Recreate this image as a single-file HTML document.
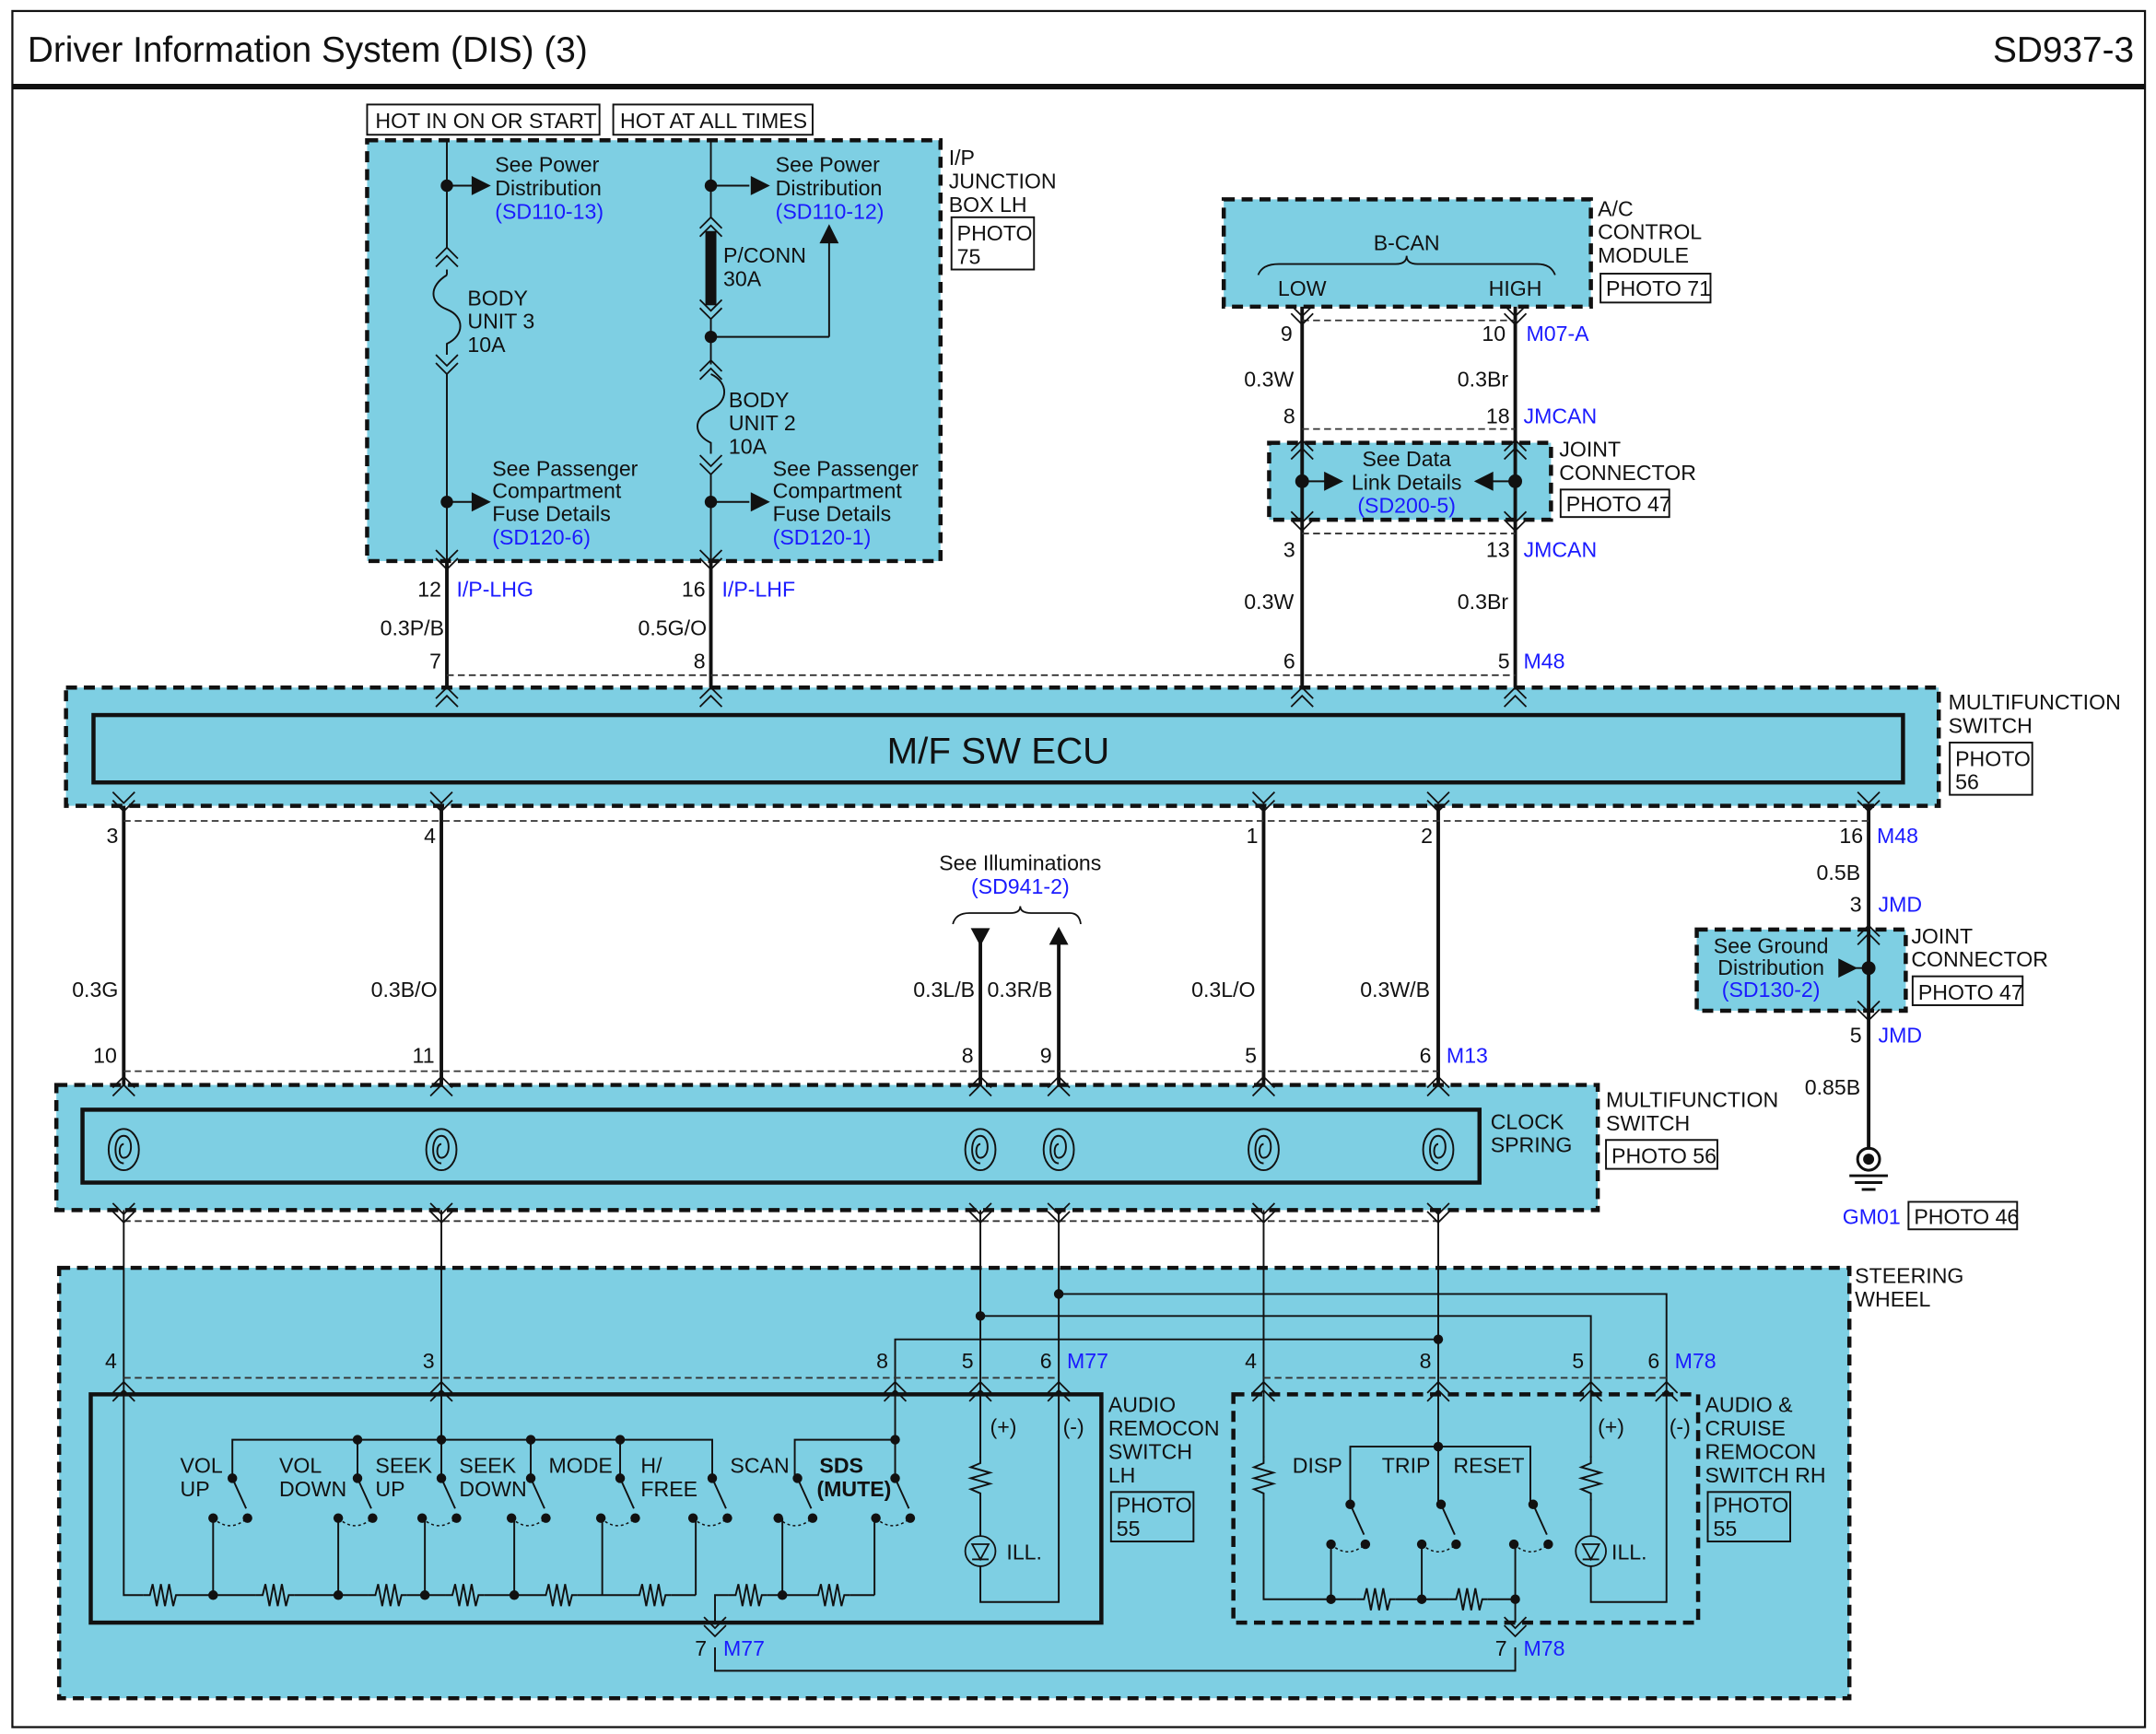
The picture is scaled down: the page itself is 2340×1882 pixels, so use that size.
<!DOCTYPE html>
<html><head><meta charset="utf-8"><style>
html,body{margin:0;padding:0;background:#fff}
svg{display:block}
text{font-family:"Liberation Sans",Arial,sans-serif;font-size:15.5px;fill:#111}
.b{fill:#1a1aff}
.e{text-anchor:end}
.m{text-anchor:middle}
</style></head><body>
<svg width="2340" height="1882" viewBox="0 0 1568 1261" preserveAspectRatio="none" xmlns="http://www.w3.org/2000/svg">
<defs>
<path id="cu" d="M-8,8 L0,0 L8,8 M-8,14 L0,6 L8,14" stroke="#111" stroke-width="1.2" fill="none"/>
<path id="cd" d="M-8,-8 L0,0 L8,-8 M-8,-14 L0,-6 L8,-14" stroke="#111" stroke-width="1.2" fill="none"/>
<path id="rh" d="M-14,0 L-9,0 L-7,-8 L-4,8 L-1,-8 L2,8 L5,-8 L8,8 L10,0 L14,0" stroke="#111" stroke-width="1.3" fill="none"/>
<path id="rv" d="M0,-16 L0,-11 L-7,-8 L7,-4 L-7,0 L7,4 L-7,8 L0,11 L0,16" stroke="#111" stroke-width="1.3" fill="none"/>
<g id="sp" fill="none" stroke="#111" stroke-width="1.3"><ellipse cx="0" cy="0" rx="11" ry="15"/><path d="M0,10 C-8,10 -8,-10 0,-10 C7,-10 7,6 0,6 C-4,6 -4,-4 0,-4"/></g>
<g id="sw"><circle cx="0" cy="0" r="3.5" fill="#111"/><line x1="0" y1="0" x2="10" y2="22" stroke="#111" stroke-width="1.3"/><circle cx="-14" cy="29" r="3.5" fill="#111"/><circle cx="11" cy="29" r="3.5" fill="#111"/><path d="M-14,29 Q-2,40 11,29" stroke="#111" stroke-width="1" stroke-dasharray="2,2" fill="none"/></g>
<g id="ill"><circle cx="0" cy="0" r="11" fill="none" stroke="#111" stroke-width="1.2"/><path d="M-6,-5 L6,-5 L0,6 Z" fill="none" stroke="#111" stroke-width="1.2"/><line x1="-6" y1="6" x2="6" y2="6" stroke="#111" stroke-width="1.2"/></g>
</defs>
<rect x="0" y="0" width="1568" height="1261" fill="#fff"/>
<rect x="9" y="8" width="1551" height="1248" fill="none" stroke="#111" stroke-width="1.5"/>
<text x="20" y="45" style="font-size:26px">Driver Information System (DIS) (3)</text>
<text x="1552" y="45" class="e" style="font-size:26px">SD937-3</text>
<line x1="9" y1="63" x2="1560" y2="63" stroke="#111" stroke-width="4"/>

<!-- blue regions -->
<g fill="#7ecfe3" stroke="#111" stroke-width="3" stroke-dasharray="8,5">
<rect x="267" y="102" width="417" height="306"/>
<rect x="890" y="145" width="267" height="78"/>
<rect x="923" y="322" width="205" height="56"/>
<rect x="48" y="500" width="1362" height="86"/>
<rect x="1234" y="676" width="152" height="59"/>
<rect x="41" y="789" width="1121" height="91"/>
<rect x="43" y="922" width="1302" height="313"/>
<rect x="897" y="1014" width="338" height="166"/>
</g>
<rect x="68" y="520" width="1316" height="49" fill="#7ecfe3" stroke="#111" stroke-width="3"/>
<rect x="60" y="807" width="1016" height="53" fill="#7ecfe3" stroke="#111" stroke-width="3"/>
<rect x="66" y="1014" width="735" height="166" fill="#7ecfe3" stroke="#111" stroke-width="3"/>

<!-- boxes -->
<g fill="none" stroke="#111" stroke-width="1.3">
<rect x="267" y="76" width="169" height="22"/><rect x="446" y="76" width="145" height="22"/>
<rect x="692" y="158" width="60" height="38"/>
<rect x="1164" y="199" width="80" height="21"/>
<rect x="1135" y="356" width="79" height="20"/>
<rect x="1418" y="540" width="60" height="38"/>
<rect x="1391" y="710" width="80" height="21"/>
<rect x="1168" y="829" width="81" height="21"/>
<rect x="1388" y="874" width="79" height="20"/>
<rect x="808" y="1085" width="60" height="36"/>
<rect x="1242" y="1085" width="60" height="36"/>
</g>
<text x="273" y="93">HOT IN ON OR START</text><text x="451" y="93">HOT AT ALL TIMES</text>
<text x="690" y="120">I/P</text><text x="690" y="137">JUNCTION</text><text x="690" y="154">BOX LH</text>
<text x="696" y="175">PHOTO</text><text x="696" y="192">75</text>

<!-- junction box internals -->
<g stroke="#111" stroke-width="1.3" fill="none">
<line x1="325" y1="102" x2="325" y2="180"/><line x1="325" y1="196" x2="325" y2="200"/>
<path d="M325,200 C312,208 312,220 325,225 C338,230 338,244 325,250 L325,258"/>
<line x1="325" y1="272" x2="325" y2="408"/>
<line x1="325" y1="135" x2="345" y2="135"/><line x1="325" y1="365" x2="345" y2="365"/>
<line x1="517" y1="102" x2="517" y2="158"/>
<line x1="517" y1="245" x2="603" y2="245"/><line x1="603" y1="245" x2="603" y2="175"/>
<line x1="517" y1="232" x2="517" y2="265"/>
<path d="M517,272 C530,278 530,292 517,298 C504,304 504,316 517,322 L517,330"/>
<line x1="517" y1="345" x2="517" y2="408"/>
<line x1="517" y1="135" x2="545" y2="135"/><line x1="517" y1="365" x2="545" y2="365"/>
</g>
<rect x="513" y="168" width="8" height="54" fill="#111"/>
<use href="#cu" x="325" y="180"/><use href="#cd" x="325" y="272"/>
<use href="#cu" x="517" y="158"/><use href="#cd" x="517" y="232"/>
<use href="#cu" x="517" y="262"/><use href="#cd" x="517" y="345"/>
<g fill="#111">
<circle cx="325" cy="135" r="4.5"/><circle cx="325" cy="365" r="4.5"/><circle cx="517" cy="135" r="4.5"/><circle cx="517" cy="245" r="4.5"/><circle cx="517" cy="365" r="4.5"/>
<path d="M343,128 L357,135 L343,142Z"/><path d="M343,358 L357,365 L343,372Z"/>
<path d="M546,128 L560,135 L546,142Z"/><path d="M546,358 L560,365 L546,372Z"/>
<path d="M596,177 L603,163 L610,177Z"/>
</g>
<text x="360" y="125">See Power</text><text x="360" y="142">Distribution</text><text x="360" y="159" class="b">(SD110-13)</text>
<text x="564" y="125">See Power</text><text x="564" y="142">Distribution</text><text x="564" y="159" class="b">(SD110-12)</text>
<text x="340" y="222">BODY</text><text x="340" y="239">UNIT 3</text><text x="340" y="256">10A</text>
<text x="526" y="191">P/CONN</text><text x="526" y="208">30A</text>
<text x="530" y="296">BODY</text><text x="530" y="313">UNIT 2</text><text x="530" y="330">10A</text>
<text x="358" y="346">See Passenger</text><text x="358" y="362">Compartment</text><text x="358" y="379">Fuse Details</text><text x="358" y="396" class="b">(SD120-6)</text>
<text x="562" y="346">See Passenger</text><text x="562" y="362">Compartment</text><text x="562" y="379">Fuse Details</text><text x="562" y="396" class="b">(SD120-1)</text>

<!-- A/C module -->
<path d="M915,200 Q918,192 930,192 L1015,192 Q1023,192 1023,186 Q1023,192 1031,192 L1118,192 Q1128,192 1131,200" fill="none" stroke="#111" stroke-width="1.2"/>
<text x="1023" y="182" class="m">B-CAN</text><text x="947" y="215" class="m">LOW</text><text x="1102" y="215" class="m">HIGH</text>
<text x="1162" y="157">A/C</text><text x="1162" y="174">CONTROL</text><text x="1162" y="191">MODULE</text><text x="1168" y="215">PHOTO 71</text>

<!-- heavy wires -->
<g stroke="#111" stroke-width="2.6" fill="none">
<line x1="325" y1="408" x2="325" y2="500"/><line x1="517" y1="408" x2="517" y2="500"/>
<line x1="947" y1="223" x2="947" y2="500"/><line x1="1102" y1="223" x2="1102" y2="500"/>
<line x1="90" y1="586" x2="90" y2="789"/><line x1="321" y1="586" x2="321" y2="789"/>
<line x1="919" y1="586" x2="919" y2="789"/><line x1="1046" y1="586" x2="1046" y2="789"/>
<line x1="713" y1="682" x2="713" y2="789"/><line x1="770" y1="684" x2="770" y2="789"/>
<line x1="1359" y1="586" x2="1359" y2="836"/>
</g>
<g stroke="#111" stroke-width="1.3" fill="none">
<line x1="90" y1="880" x2="90" y2="1014"/><line x1="321" y1="880" x2="321" y2="1014"/>
<line x1="713" y1="880" x2="713" y2="1014"/><line x1="770" y1="880" x2="770" y2="1014"/>
<line x1="919" y1="880" x2="919" y2="1014"/><line x1="1046" y1="880" x2="1046" y2="1014"/>
<path d="M713,957 L1157,957 L1157,1014"/><path d="M770,941 L1212,941 L1212,1014"/>
<path d="M651,1014 L651,974 L1046,974"/>
</g>
<g fill="#111"><circle cx="713" cy="957" r="3.5"/><circle cx="770" cy="941" r="3.5"/><circle cx="1046" cy="974" r="3.5"/></g>

<!-- dashed connector lines -->
<g stroke="#333" stroke-width="1.2" stroke-dasharray="5,3" fill="none">
<line x1="325" y1="491" x2="1102" y2="491"/>
<line x1="947" y1="233" x2="1102" y2="233"/><line x1="947" y1="312" x2="1102" y2="312"/><line x1="947" y1="388" x2="1102" y2="388"/>
<line x1="90" y1="597" x2="1359" y2="597"/>
<line x1="90" y1="779" x2="1046" y2="779"/><line x1="90" y1="888" x2="1046" y2="888"/>
<line x1="90" y1="1002" x2="770" y2="1002"/><line x1="919" y1="1002" x2="1212" y2="1002"/>
</g>

<!-- connector chevrons -->
<use href="#cd" x="325" y="414"/><use href="#cd" x="517" y="414"/>
<use href="#cu" x="325" y="500"/><use href="#cu" x="517" y="500"/><use href="#cu" x="947" y="500"/><use href="#cu" x="1102" y="500"/>
<use href="#cd" x="947" y="236"/><use href="#cd" x="1102" y="236"/>
<use href="#cu" x="947" y="320"/><use href="#cu" x="1102" y="320"/>
<use href="#cd" x="947" y="386"/><use href="#cd" x="1102" y="386"/>
<g id="ecub"><use href="#cd" x="90" y="590"/><use href="#cd" x="321" y="590"/><use href="#cd" x="919" y="590"/><use href="#cd" x="1046" y="590"/><use href="#cd" x="1359" y="590"/></g>
<use href="#cu" x="1359" y="673"/><use href="#cd" x="1359" y="742"/>
<g><use href="#cu" x="90" y="783"/><use href="#cu" x="321" y="783"/><use href="#cu" x="713" y="783"/><use href="#cu" x="770" y="783"/><use href="#cu" x="919" y="783"/><use href="#cu" x="1046" y="783"/></g>
<g><use href="#cd" x="90" y="889"/><use href="#cd" x="321" y="889"/><use href="#cd" x="713" y="889"/><use href="#cd" x="770" y="889"/><use href="#cd" x="919" y="889"/><use href="#cd" x="1046" y="889"/></g>
<g><use href="#cu" x="90" y="1005"/><use href="#cu" x="321" y="1005"/><use href="#cu" x="651" y="1005"/><use href="#cu" x="713" y="1005"/><use href="#cu" x="770" y="1005"/><use href="#cu" x="919" y="1005"/><use href="#cu" x="1046" y="1005"/><use href="#cu" x="1157" y="1005"/><use href="#cu" x="1212" y="1005"/></g>
<use href="#cd" x="520" y="1190"/><use href="#cd" x="1102" y="1190"/>

<!-- joint connector (data link) -->
<g stroke="#111" stroke-width="1.3"><line x1="947" y1="350" x2="965" y2="350"/><line x1="1084" y1="350" x2="1102" y2="350"/><line x1="1340" y1="704" x2="1359" y2="704"/></g>
<g fill="#111"><circle cx="947" cy="350" r="5"/><circle cx="1102" cy="350" r="5"/><path d="M963,343 L977,350 L963,357Z"/><path d="M1086,343 L1072,350 L1086,357Z"/><circle cx="1359" cy="704" r="5"/><path d="M1337,697 L1351,704 L1337,711Z"/></g>
<text x="1023" y="339" class="m">See Data</text><text x="1023" y="356" class="m">Link Details</text><text x="1023" y="373" class="m b">(SD200-5)</text>
<text x="1134" y="332">JOINT</text><text x="1134" y="349">CONNECTOR</text><text x="1139" y="372">PHOTO 47</text>

<!-- wire labels top -->
<text x="321" y="434" class="e">12</text><text x="332" y="434" class="b">I/P-LHG</text>
<text x="323" y="462" class="e">0.3P/B</text><text x="321" y="486" class="e">7</text>
<text x="513" y="434" class="e">16</text><text x="525" y="434" class="b">I/P-LHF</text>
<text x="514" y="462" class="e">0.5G/O</text><text x="513" y="486" class="e">8</text>
<text x="940" y="248" class="e">9</text><text x="1095" y="248" class="e">10</text><text x="1110" y="248" class="b">M07-A</text>
<text x="941" y="281" class="e">0.3W</text><text x="1097" y="281" class="e">0.3Br</text>
<text x="942" y="308" class="e">8</text><text x="1098" y="308" class="e">18</text><text x="1108" y="308" class="b">JMCAN</text>
<text x="942" y="405" class="e">3</text><text x="1098" y="405" class="e">13</text><text x="1108" y="405" class="b">JMCAN</text>
<text x="941" y="443" class="e">0.3W</text><text x="1097" y="443" class="e">0.3Br</text>
<text x="942" y="486" class="e">6</text><text x="1098" y="486" class="e">5</text><text x="1108" y="486" class="b">M48</text>

<!-- ECU -->
<text x="726" y="555" class="m" style="font-size:27px">M/F SW ECU</text>
<text x="1417" y="516">MULTIFUNCTION</text><text x="1417" y="533">SWITCH</text><text x="1422" y="557">PHOTO</text><text x="1422" y="574">56</text>

<text x="86" y="613" class="e">3</text><text x="317" y="613" class="e">4</text><text x="915" y="613" class="e">1</text><text x="1042" y="613" class="e">2</text>
<text x="1355" y="613" class="e">16</text><text x="1365" y="613" class="b">M48</text>
<text x="1353" y="640" class="e">0.5B</text>
<text x="1354" y="663" class="e">3</text><text x="1366" y="663" class="b">JMD</text>
<text x="1288" y="693" class="m">See Ground</text><text x="1288" y="709" class="m">Distribution</text><text x="1288" y="725" class="m b">(SD130-2)</text>
<text x="1390" y="686">JOINT</text><text x="1390" y="703">CONNECTOR</text><text x="1395" y="727">PHOTO 47</text>
<text x="1354" y="758" class="e">5</text><text x="1366" y="758" class="b">JMD</text>
<text x="1353" y="796" class="e">0.85B</text>
<circle cx="1359" cy="843" r="8" fill="none" stroke="#111" stroke-width="2"/><circle cx="1359" cy="843" r="4" fill="#111"/>
<g stroke="#111" stroke-width="2"><line x1="1345" y1="855" x2="1373" y2="855"/><line x1="1349" y1="860" x2="1369" y2="860"/><line x1="1354" y1="865" x2="1364" y2="865"/></g>
<text x="1340" y="890" class="b">GM01</text><text x="1392" y="890">PHOTO 46</text>

<!-- illuminations -->
<text x="742" y="633" class="m">See Illuminations</text><text x="742" y="650" class="m b">(SD941-2)</text>
<path d="M693,672 Q695,664 705,664 L735,664 Q742,664 742,659 Q742,664 750,664 L778,664 Q785,664 786,672" fill="none" stroke="#111" stroke-width="1.2"/>
<g fill="#111"><path d="M706,675 L720,675 L713,688Z"/><path d="M763,687 L777,687 L770,674Z"/></g>
<text x="86" y="725" class="e">0.3G</text><text x="318" y="725" class="e">0.3B/O</text>
<text x="709" y="725" class="e">0.3L/B</text><text x="718" y="725">0.3R/B</text>
<text x="913" y="725" class="e">0.3L/O</text><text x="1040" y="725" class="e">0.3W/B</text>
<text x="85" y="773" class="e">10</text><text x="316" y="773" class="e">11</text><text x="708" y="773" class="e">8</text><text x="765" y="773" class="e">9</text>
<text x="914" y="773" class="e">5</text><text x="1041" y="773" class="e">6</text><text x="1052" y="773" class="b">M13</text>

<!-- clock spring -->
<use href="#sp" x="90" y="836"/><use href="#sp" x="321" y="836"/><use href="#sp" x="713" y="836"/><use href="#sp" x="770" y="836"/><use href="#sp" x="919" y="836"/><use href="#sp" x="1046" y="836"/>
<text x="1084" y="821">CLOCK</text><text x="1084" y="838">SPRING</text>
<text x="1168" y="805">MULTIFUNCTION</text><text x="1168" y="822">SWITCH</text><text x="1172" y="846">PHOTO 56</text>

<!-- steering wheel -->
<text x="1349" y="933">STEERING</text><text x="1349" y="950">WHEEL</text>
<text x="85" y="995" class="e">4</text><text x="316" y="995" class="e">3</text><text x="646" y="995" class="e">8</text><text x="708" y="995" class="e">5</text><text x="765" y="995" class="e">6</text><text x="776" y="995" class="b">M77</text>
<text x="914" y="995" class="e">4</text><text x="1041" y="995" class="e">8</text><text x="1152" y="995" class="e">5</text><text x="1207" y="995" class="e">6</text><text x="1218" y="995" class="b">M78</text>

<!-- LH switch internals -->
<g stroke="#111" stroke-width="1.3" fill="none">
<path d="M90,1014 L90,1160 L104,1160"/>
<line x1="132" y1="1160" x2="186" y2="1160"/><line x1="214" y1="1160" x2="268" y2="1160"/><line x1="296" y1="1160" x2="324" y2="1160"/><line x1="352" y1="1160" x2="392" y2="1160"/><line x1="420" y1="1160" x2="460" y2="1160"/><line x1="488" y1="1160" x2="506" y2="1160"/>
<path d="M520,1180 L520,1160 L530,1160"/><line x1="558" y1="1160" x2="590" y2="1160"/><line x1="618" y1="1160" x2="636" y2="1160"/>
<path d="M169,1075 L169,1047 L518,1047 L518,1075"/><line x1="260" y1="1047" x2="260" y2="1075"/><line x1="321" y1="1014" x2="321" y2="1075"/><line x1="386" y1="1047" x2="386" y2="1075"/><line x1="451" y1="1047" x2="451" y2="1075"/>
<path d="M578,1075 L578,1047 L651,1047"/><line x1="651" y1="1014" x2="651" y2="1075"/>
<line x1="155" y1="1104" x2="155" y2="1160"/><line x1="246" y1="1104" x2="246" y2="1160"/><line x1="309" y1="1104" x2="309" y2="1160"/><line x1="374" y1="1104" x2="374" y2="1160"/><line x1="438" y1="1104" x2="438" y2="1160"/><line x1="506" y1="1104" x2="506" y2="1160"/><line x1="569" y1="1104" x2="569" y2="1160"/><line x1="636" y1="1104" x2="636" y2="1160"/>
<path d="M713,1014 L713,1060 M713,1090 L713,1117 M713,1139 L713,1165 L770,1165 L770,1014"/>
<path d="M520,1198 L520,1215 L1102,1215 L1102,1198"/>
</g>
<use href="#rh" x="118" y="1160"/><use href="#rh" x="200" y="1160"/><use href="#rh" x="282" y="1160"/><use href="#rh" x="338" y="1160"/><use href="#rh" x="406" y="1160"/><use href="#rh" x="474" y="1160"/><use href="#rh" x="544" y="1160"/><use href="#rh" x="604" y="1160"/>
<use href="#rv" x="713" y="1075"/><use href="#ill" x="713" y="1128"/>
<g fill="#111"><circle cx="155" cy="1160" r="3.5"/><circle cx="246" cy="1160" r="3.5"/><circle cx="309" cy="1160" r="3.5"/><circle cx="374" cy="1160" r="3.5"/><circle cx="569" cy="1160" r="3.5"/>
<circle cx="260" cy="1047" r="3.5"/><circle cx="321" cy="1047" r="3.5"/><circle cx="386" cy="1047" r="3.5"/><circle cx="451" cy="1047" r="3.5"/><circle cx="651" cy="1047" r="3.5"/></g>
<use href="#sw" x="169" y="1075"/><use href="#sw" x="260" y="1075"/><use href="#sw" x="321" y="1075"/><use href="#sw" x="386" y="1075"/><use href="#sw" x="451" y="1075"/><use href="#sw" x="518" y="1075"/><use href="#sw" x="580" y="1075"/><use href="#sw" x="651" y="1075"/>
<text x="131" y="1071">VOL</text><text x="131" y="1088">UP</text>
<text x="203" y="1071">VOL</text><text x="203" y="1088">DOWN</text>
<text x="273" y="1071">SEEK</text><text x="273" y="1088">UP</text>
<text x="334" y="1071">SEEK</text><text x="334" y="1088">DOWN</text>
<text x="399" y="1071">MODE</text>
<text x="466" y="1071">H/</text><text x="466" y="1088">FREE</text>
<text x="531" y="1071">SCAN</text>
<text x="596" y="1071" style="font-weight:bold">SDS</text><text x="594" y="1088" style="font-weight:bold">(MUTE)</text>
<text x="720" y="1043">(+)</text><text x="773" y="1043">(-)</text><text x="732" y="1134">ILL.</text>
<text x="806" y="1027">AUDIO</text><text x="806" y="1044">REMOCON</text><text x="806" y="1061">SWITCH</text><text x="806" y="1078">LH</text>
<text x="812" y="1100">PHOTO</text><text x="812" y="1117">55</text>
<text x="514" y="1204" class="e">7</text><text x="526" y="1204" class="b">M77</text>

<!-- RH switch internals -->
<g stroke="#111" stroke-width="1.3" fill="none">
<path d="M919,1014 L919,1060 M919,1090 L919,1163 L987,1163"/><line x1="1015" y1="1163" x2="1054" y2="1163"/><line x1="1082" y1="1163" x2="1102" y2="1163"/>
<line x1="1102" y1="1124" x2="1102" y2="1180"/>
<path d="M982,1094 L982,1052 L1113,1052 L1113,1094"/><line x1="1046" y1="1014" x2="1046" y2="1094"/>
<line x1="968" y1="1124" x2="968" y2="1163"/><line x1="1034" y1="1124" x2="1034" y2="1163"/>
<path d="M1157,1014 L1157,1060 M1157,1090 L1157,1117 M1157,1139 L1157,1165 L1212,1165 L1212,1014"/>
</g>
<use href="#rv" x="919" y="1075"/><use href="#rv" x="1157" y="1075"/><use href="#ill" x="1157" y="1128"/>
<use href="#rh" x="1001" y="1163"/><use href="#rh" x="1068" y="1163"/>
<g fill="#111"><circle cx="968" cy="1163" r="3.5"/><circle cx="1034" cy="1163" r="3.5"/><circle cx="1102" cy="1163" r="3.5"/><circle cx="1046" cy="1052" r="3.5"/></g>
<use href="#sw" x="982" y="1094"/><use href="#sw" x="1048" y="1094"/><use href="#sw" x="1115" y="1094"/>
<text x="940" y="1071">DISP</text><text x="1005" y="1071">TRIP</text><text x="1057" y="1071">RESET</text>
<text x="1162" y="1043">(+)</text><text x="1214" y="1043">(-)</text><text x="1172" y="1134">ILL.</text>
<text x="1240" y="1027">AUDIO &amp;</text><text x="1240" y="1044">CRUISE</text><text x="1240" y="1061">REMOCON</text><text x="1240" y="1078">SWITCH RH</text>
<text x="1246" y="1100">PHOTO</text><text x="1246" y="1117">55</text>
<text x="1096" y="1204" class="e">7</text><text x="1108" y="1204" class="b">M78</text>
</svg>
</body></html>
